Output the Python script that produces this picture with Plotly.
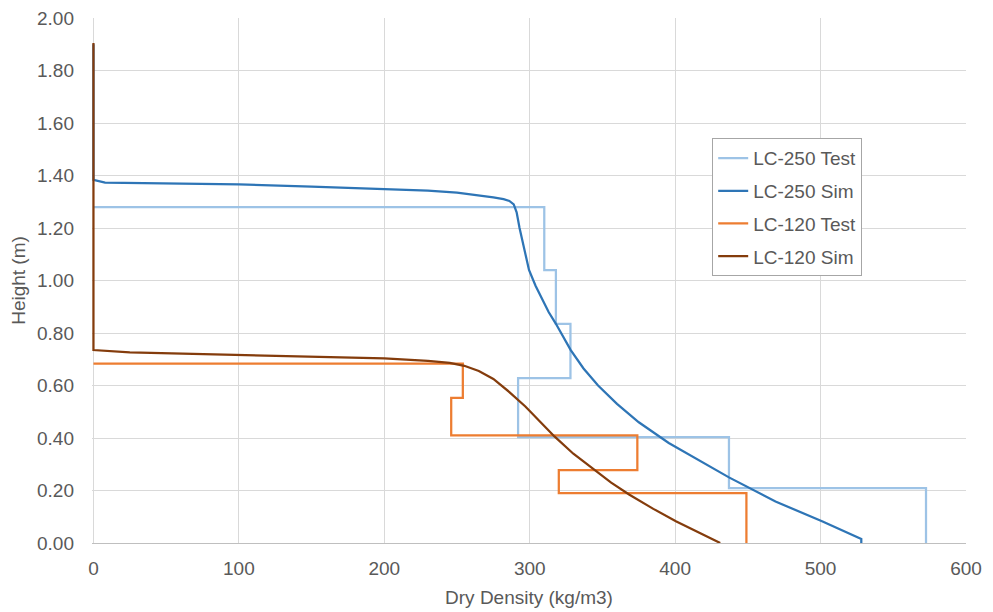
import plotly.graph_objects as go

# LC-250 Test (step profile)
lc250_test_x = [0, 310, 310, 318, 318, 328, 328, 292, 292, 437, 437, 572.5, 572.5]
lc250_test_y = [1.28, 1.28, 1.04, 1.04, 0.835, 0.835, 0.628, 0.628, 0.403, 0.403, 0.209, 0.209, 0.0]

# LC-250 Sim
lc250_sim_x = [0, 0, 8, 50, 100, 150, 200, 230, 250, 265, 275, 282, 286, 289, 291, 293, 296, 299.5,
               304, 308.7, 313, 317.9, 328.2, 337, 347, 360, 375, 395.6, 415, 437, 469, 501, 528, 528]
lc250_sim_y = [1.90, 1.383, 1.373, 1.370, 1.366, 1.358, 1.349, 1.342, 1.335, 1.325, 1.317, 1.310, 1.303,
               1.29, 1.26, 1.20, 1.12, 1.04, 0.98, 0.925, 0.88, 0.836, 0.735, 0.665, 0.60, 0.53, 0.46,
               0.381, 0.32, 0.25, 0.158, 0.083, 0.015, 0.0]

# LC-120 Test (step profile)
lc120_test_x = [0, 254, 254, 246, 246, 374, 374, 320, 320, 449, 449]
lc120_test_y = [0.683, 0.683, 0.553, 0.553, 0.41, 0.41, 0.278, 0.278, 0.19, 0.19, 0.0]

# LC-120 Sim
lc120_sim_x = [0, 0, 25, 100, 150, 200, 230, 245, 255, 265, 275, 286, 297, 307, 317, 330, 344, 356,
               368.6, 385, 400.5, 416, 431]
lc120_sim_y = [1.905, 0.735, 0.726, 0.716, 0.710, 0.703, 0.694, 0.686, 0.675, 0.655, 0.625, 0.575, 0.52,
               0.462, 0.406, 0.34, 0.279, 0.23, 0.184, 0.13, 0.083, 0.04, 0.0]

x_ticks = [0, 100, 200, 300, 400, 500, 600]
y_ticks = [0.0, 0.2, 0.4, 0.6, 0.8, 1.0, 1.2, 1.4, 1.6, 1.8, 2.0]

series = [
    ("LC-250 Test", lc250_test_x, lc250_test_y, "#9DC3E6"),
    ("LC-250 Sim", lc250_sim_x, lc250_sim_y, "#2E75B6"),
    ("LC-120 Test", lc120_test_x, lc120_test_y, "#ED7D31"),
    ("LC-120 Sim", lc120_sim_x, lc120_sim_y, "#843C0C"),
]

fig = go.Figure()
for name, xs, ys, col in series:
    fig.add_trace(go.Scatter(x=xs, y=ys, mode="lines", name=name, legendgroup=name,
                             line=dict(color=col, width=2.25)))

font_family = "Liberation Sans, Arial, sans-serif"
TXT = "#595959"
FS = 19
fig.update_layout(
    width=985, height=604,
    margin=dict(l=84, r=27, t=10, b=69),
    paper_bgcolor="white", plot_bgcolor="white",
    font=dict(family=font_family, color=TXT, size=FS),
    xaxis=dict(range=[-1, 600], tickvals=x_ticks, ticktext=[str(v) for v in x_ticks],
               showgrid=True, gridcolor="#D9D9D9", gridwidth=1,
               showline=True, linecolor="#BFBFBF", linewidth=1, zeroline=False,
               ticks="", ticklabelstandoff=8, automargin=False, ticklabeloverflow="allow",
               tickfont=dict(size=FS, color=TXT),
               title=dict(text="Dry Density (kg/m3)", font=dict(size=FS, color=TXT), standoff=12)),
    yaxis=dict(range=[0, 2.0], tickvals=y_ticks, ticktext=[f"{v:.2f}" for v in y_ticks],
               showgrid=True, gridcolor="#D9D9D9", gridwidth=1,
               showline=False, zeroline=False, ticks="", ticklabelstandoff=17, automargin=False,
               ticklabeloverflow="allow",
               tickfont=dict(size=FS, color=TXT),
               title=dict(text="Height (m)", font=dict(size=FS, color=TXT), standoff=8)),
    legend=dict(x=0.7096, y=0.771, xanchor="left", yanchor="top",
                bgcolor="white", bordercolor="#A6A6A6", borderwidth=1,
                font=dict(size=FS, color=TXT), itemwidth=30,
                traceorder="grouped", tracegroupgap=5),
    showlegend=True,
)

fig.write_html("out.html")
